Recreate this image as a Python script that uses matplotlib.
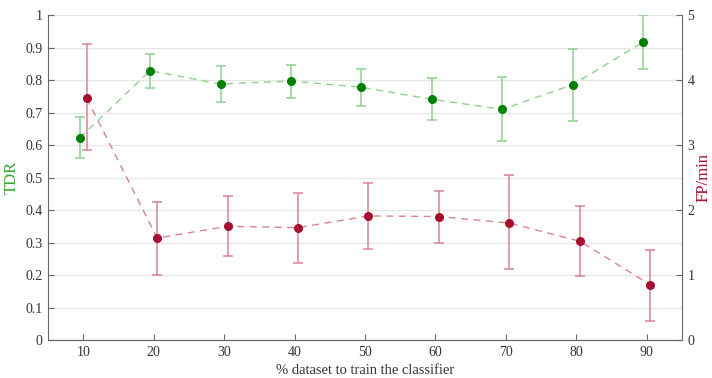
import matplotlib.pyplot as plt
import numpy as np

plt.rcParams['font.family'] = ['Liberation Serif', 'DejaVu Serif']

pct = np.array([10, 20, 30, 40, 50, 60, 70, 80, 90])

# TDR (left axis) with error bar limits
tdr = [0.622, 0.829, 0.788, 0.797, 0.778, 0.741, 0.710, 0.786, 0.917]
tdr_hi = [0.687, 0.881, 0.844, 0.848, 0.834, 0.805, 0.809, 0.895, 1.0]
tdr_lo = [0.560, 0.777, 0.733, 0.745, 0.721, 0.678, 0.612, 0.675, 0.834]

# FP/min (right axis) with error bar limits
fp = [3.72, 1.57, 1.75, 1.73, 1.91, 1.90, 1.80, 1.52, 0.85]
fp_hi = [4.55, 2.13, 2.21, 2.27, 2.42, 2.29, 2.54, 2.07, 1.39]
fp_lo = [2.92, 1.00, 1.29, 1.19, 1.40, 1.50, 1.09, 0.98, 0.30]

green = '#008000'
green_light = '#8fd18f'
red = '#a50f2d'
red_light = '#d98294'
spine_col = '#666666'

fig = plt.figure(figsize=(7.12, 3.78), dpi=100)
ax = fig.add_axes([0.0674, 0.1005, 0.8904, 0.8595])
ax2 = ax.twinx()

tdr = np.array(tdr)
fp = np.array(fp)
ax.errorbar(pct - 0.5, tdr, yerr=[tdr - np.array(tdr_lo), np.array(tdr_hi) - tdr],
            fmt='none', ecolor=green_light, elinewidth=1.1, capsize=3.5, capthick=1.1)
ax.plot(pct - 0.5, tdr, ls=(0, (5, 4)), color=green_light, lw=1)
ax.plot(pct - 0.5, tdr, 'o', color=green, ms=5.5)

ax2.errorbar(pct + 0.5, fp, yerr=[fp - np.array(fp_lo), np.array(fp_hi) - fp],
             fmt='none', ecolor=red_light, elinewidth=1.1, capsize=3.5, capthick=1.1)
ax2.plot(pct + 0.5, fp, ls=(0, (5, 4)), color=red_light, lw=1)
ax2.plot(pct + 0.5, fp, 'o', color=red, ms=5.5)

ax.set_xlim(5, 95)
ax.set_ylim(0, 1)
ax2.set_ylim(0, 5)
ax.set_xticks(pct)
ax.set_yticks(np.arange(0, 1.01, 0.1))
ax.set_yticklabels(['0', '0.1', '0.2', '0.3', '0.4', '0.5', '0.6', '0.7', '0.8', '0.9', '1'])
ax2.set_yticks(range(6))

ax.yaxis.grid(True, color='#e6e6e6', lw=1)
ax.set_axisbelow(True)

for a in (ax, ax2):
    a.spines['top'].set_visible(False)
    for s in ('left', 'right', 'bottom'):
        a.spines[s].set_color(spine_col)
    a.tick_params(direction='in', length=4, color=spine_col, labelcolor='#333333',
                  labelsize=10, pad=4)
ax2.spines['left'].set_visible(False)
ax.spines['right'].set_visible(False)

ax.set_ylabel('TDR', color='#3aa83a', fontsize=12, labelpad=4)
ax2.set_ylabel('FP/min', color=red, fontsize=12, labelpad=1)
ax.set_xlabel('% dataset to train the classifier', fontsize=10.5, color='#333333')

fig.savefig('out.png', dpi=100)
